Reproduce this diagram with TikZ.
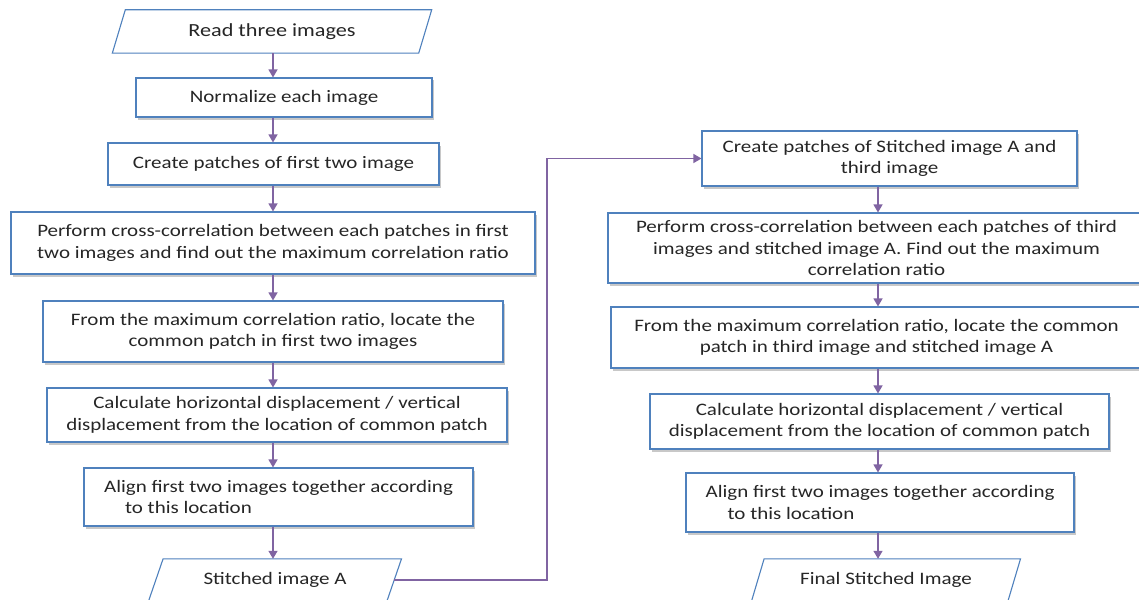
\documentclass[tikz,border=0pt]{standalone}
\usepackage{fontspec}
\setmainfont{Carlito}[FakeStretch=1.2]
\usetikzlibrary{shadows,arrows.meta}
\definecolor{boxblue}{RGB}{79,129,189}
\definecolor{arrpurple}{RGB}{128,100,162}
\begin{document}
\begin{tikzpicture}[x=1pt,y=-1pt,
  txt/.style={align=center, font=\fontsize{17.5}{21.5}\selectfont, text=black!85, inner sep=0pt},
  box/.style={txt, draw=boxblue, line width=1.1pt, fill=white,
    drop shadow={shadow xshift=2pt,shadow yshift=-2.5pt,opacity=0.3,fill=black!70}},
  iobox/.style={txt},
  pline/.style={draw=boxblue, line width=1.1pt},
  arr/.style={draw=arrpurple, line width=1.3pt, -{Triangle[length=8pt,width=9pt]}},
]
\useasboundingbox (0,0) rectangle (1139,599);
\fill[white] (0,0) rectangle (1139,599);
\clip (0,0) rectangle (1139,599);

% axes for the vertical connectors
\coordinate (axL) at (273,0);
\coordinate (axR) at (878,0);
\coordinate (bend) at (547,0);

% ---------------- left column ----------------
\node[iobox, font=\fontsize{18.5}{22}\selectfont, minimum width=306pt, minimum height=43pt] (L1) at (272,31.5) {Read three images};
\draw[pline] ([xshift=6.5pt]L1.north west) -- ([xshift=6.5pt]L1.north east)
  -- ([xshift=-6.5pt]L1.south east) -- ([xshift=-6.5pt]L1.south west) -- cycle;

\node[box, minimum width=296pt, minimum height=39pt] (L2) at (284,97.5) {Normalize each image};
\node[box, minimum width=331pt, minimum height=42pt] (L3) at (273.5,164) {Create patches of first two image};
\node[box, minimum width=524pt, minimum height=62pt] (L4) at (273,243)
  {Perform cross-correlation between each patches in first\\two images and find out the maximum correlation ratio};
\node[box, minimum width=460pt, minimum height=61pt] (L5) at (273,331.5)
  {From the maximum correlation ratio, locate the\\common patch in first two images};
\node[box, minimum width=460pt, minimum height=54pt] (L6) at (277,415)
  {Calculate horizontal displacement / vertical\\displacement from the location of common patch};
\node[box, align=left, minimum width=389pt, minimum height=58pt] (L7) at (278.5,497)
  {Align first two images together according\\\hspace*{21pt}to this location};

\node[iobox, minimum width=238pt, minimum height=42pt] (L8) at (275,580) {Stitched image A};
\draw[pline] ([xshift=7.3pt]L8.north west) -- ([xshift=7.3pt]L8.north east)
  -- ([xshift=-7.3pt]L8.south east) -- ([xshift=-7.3pt]L8.south west) -- cycle;

% ---------------- right column ----------------
\node[box, minimum width=375pt, minimum height=55pt] (R1) at (889.5,158.5)
  {Create patches of Stitched image A and\\third image};
\node[box, minimum width=537pt, minimum height=70pt] (R2) at (876.5,248)
  {Perform cross-correlation between each patches of third\\images and stitched image A. Find out the maximum\\correlation ratio};
\node[box, minimum width=531pt, minimum height=61pt] (R3) at (876.5,337.5)
  {From the maximum correlation ratio, locate the common\\patch in third image and stitched image A};
\node[box, minimum width=459pt, minimum height=55pt] (R4) at (879.5,421.5)
  {Calculate horizontal displacement / vertical\\displacement from the location of common patch};
\node[box, align=left, minimum width=388pt, minimum height=59pt] (R5) at (880,502.5)
  {Align first two images together according\\\hspace*{22pt}to this location};

\node[iobox, minimum width=256pt, minimum height=42pt] (R6) at (886,580) {Final Stitched Image};
\draw[pline] ([xshift=6.3pt]R6.north west) -- ([xshift=6.3pt]R6.north east)
  -- ([xshift=-6.3pt]R6.south east) -- ([xshift=-6.3pt]R6.south west) -- cycle;

% ---------------- connectors ----------------
\foreach \a/\b in {L1/L2,L2/L3,L3/L4,L4/L5,L5/L6,L6/L7,L7/L8}
  \draw[arr] (\a.south -| axL) -- (\b.north -| axL);
\foreach \a/\b in {R1/R2,R2/R3,R3/R4,R4/R5,R5/R6}
  \draw[arr] (\a.south -| axR) -- (\b.north -| axR);

\draw[arr] (L8.east) -- (L8.east -| bend) -- (R1.west -| bend) -- (R1.west);
\end{tikzpicture}
\end{document}
